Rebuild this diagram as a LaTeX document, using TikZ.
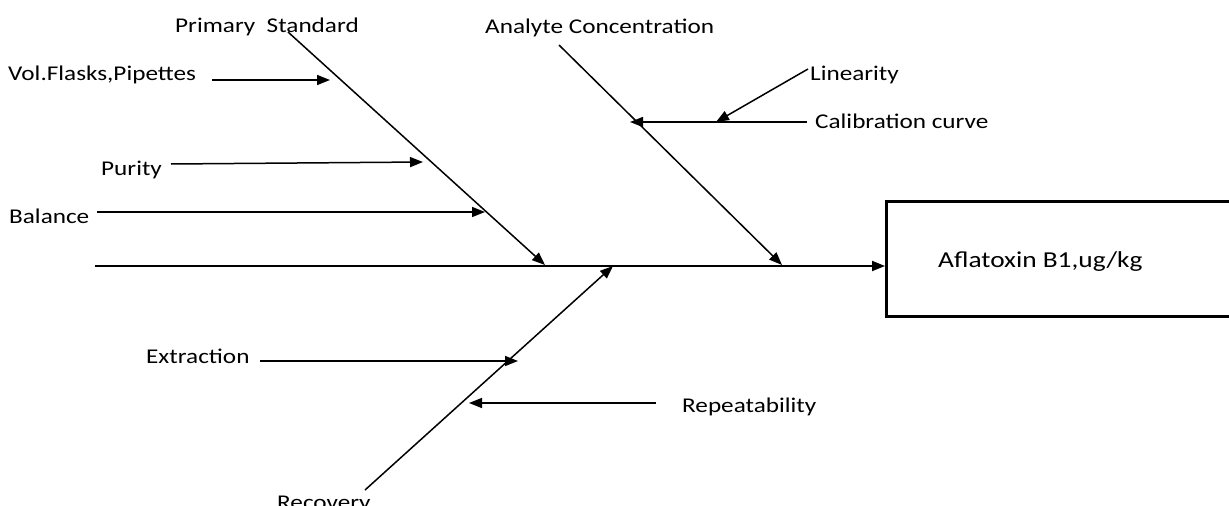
\documentclass[tikz,border=0pt]{standalone}
\usepackage{fontspec}
\setmainfont{Carlito}[FakeStretch=1.2]
\usetikzlibrary{arrows.meta}
\begin{document}
\begin{tikzpicture}[x=1pt,y=-1pt,
  lbl/.style={font=\fontsize{21}{25}\selectfont, inner sep=0pt, anchor=base west},
  arr/.style={-{Triangle[length=13pt,width=10pt]}, line width=1.5pt},
  spine/.style={-{Triangle[length=13pt,width=10pt]}, line width=1.8pt},
  effect/.style={draw, line width=2.5pt, inner sep=0pt, anchor=north west, minimum width=420pt, minimum height=115pt}]
\useasboundingbox (0,0) rectangle (1229,506);
\clip (0,0) rectangle (1229,506);
\fill[white] (0,0) rectangle (1229,506);

% labels
\node[lbl] (prim) at (175,32) {Primary\ \ Standard};
\node[lbl] (anal) at (485,33) {Analyte Concentration};
\node[lbl] (lin)  at (810,80) {Linearity};
\node[lbl] (cal)  at (815,128) {Calibration curve};
\node[lbl] (vol)  at (8,80) {Vol.Flasks,Pipettes};
\node[lbl] (pur)  at (101,175) {Purity};
\node[lbl] (bal)  at (9,223) {Balance};
\node[lbl] (ext)  at (146,363) {Extraction};
\node[lbl] (rep)  at (682,412) {Repeatability};
\node[lbl] (rec)  at (277,509) {Recovery};

% effect box (its right side lies past the picture's edge)
\node[effect] (box) at (885,200) {};
\node[lbl, font=\fontsize{22.8}{27}\selectfont] (afl) at (938,267) {Aflatoxin B1,ug/kg};

% spine
\coordinate (tail) at (95,266);
\draw[spine] (tail) -- (tail -| box.west);

% main bones
\coordinate (psT) at (288,32);  \coordinate (psH) at (545,265);
\coordinate (acT) at (559,45);  \coordinate (acH) at (782,265);
\coordinate (rcT) at (365,490); \coordinate (rcH) at (613,266);
\draw[arr] (psT) -- (psH);
\draw[arr] (acT) -- (acH);
\draw[arr] (rcT) -- (rcH);

% sub-causes
\coordinate (volA) at (212,80);  \coordinate (volB) at (330,80);
\coordinate (purA) at (171,164); \coordinate (purB) at (423,162);
\coordinate (balA) at (97,212);  \coordinate (balB) at (485,212);
\coordinate (linA) at (808,69);  \coordinate (linB) at (716,122);
\coordinate (calA) at (807,122); \coordinate (calB) at (630,122);
\coordinate (extA) at (260,361); \coordinate (extB) at (518,361);
\coordinate (repA) at (656,403); \coordinate (repB) at (469,403);
\draw[arr] (volA) -- (volB);
\draw[arr] (purA) -- (purB);
\draw[arr] (balA) -- (balB);
\draw[arr] (linA) -- (linB);
\draw[arr] (calA) -- (calB);
\draw[arr] (extA) -- (extB);
\draw[arr] (repA) -- (repB);
\end{tikzpicture}
\end{document}
